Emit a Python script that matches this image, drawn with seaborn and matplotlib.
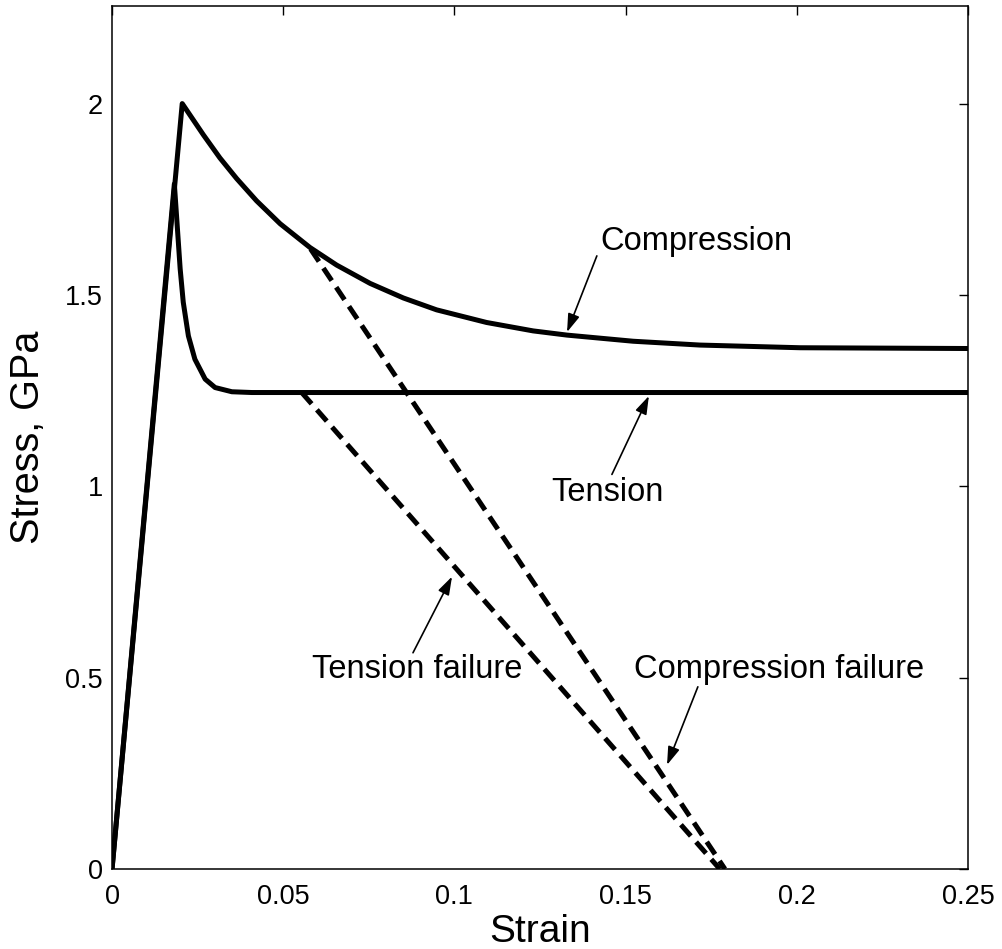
import numpy as np
import pandas as pd
import matplotlib
matplotlib.use("Agg")
import matplotlib.pyplot as plt
import seaborn as sns

# Compression stress-strain response (linear loading, peak, softening to plateau)
comp_strain = [0.0, 0.0205, 0.0267, 0.0315, 0.0364, 0.0422, 0.0491, 0.0578,
               0.0656, 0.0754, 0.0851, 0.0948, 0.1094, 0.1230, 0.1329, 0.1522,
               0.1717, 0.2010, 0.2500]
comp_stress = [0.0, 2.0, 1.918, 1.858, 1.804, 1.746, 1.686, 1.624,
               1.578, 1.530, 1.492, 1.461, 1.428, 1.406, 1.395, 1.379,
               1.369, 1.362, 1.360]

# Tension stress-strain response (sharp drop after peak to a flat plateau)
tens_strain = [0.0, 0.0182, 0.0189, 0.0199, 0.0208, 0.0223, 0.0242, 0.0272,
               0.0301, 0.0350, 0.0408, 0.2500]
tens_stress = [0.0, 1.790, 1.699, 1.568, 1.481, 1.393, 1.332, 1.280,
               1.258, 1.247, 1.245, 1.245]

# Failure (unloading) lines
comp_fail_strain = [0.058, 0.179]
comp_fail_stress = [1.62, 0.0]
tens_fail_strain = [0.0554, 0.1775]
tens_fail_stress = [1.245, 0.0]

xticks = [0, 0.05, 0.1, 0.15, 0.2, 0.25]
xticklabels = ["0", "0.05", "0.1", "0.15", "0.2", "0.25"]
yticks = [0, 0.5, 1, 1.5, 2]
yticklabels = ["0", "0.5", "1", "1.5", "2"]

sns.set_style("white")
plt.rcParams["font.family"] = ["Liberation Sans", "DejaVu Sans"]
plt.rcParams["text.color"] = "black"
plt.rcParams["axes.labelcolor"] = "black"
plt.rcParams["xtick.color"] = "black"
plt.rcParams["ytick.color"] = "black"

fig = plt.figure(figsize=(10.03, 9.49), dpi=100)
ax = fig.add_axes([0.1117, 0.0843, 0.8534, 0.9094])

solid = pd.concat([
    pd.DataFrame({"strain": comp_strain, "stress": comp_stress, "curve": "Compression"}),
    pd.DataFrame({"strain": tens_strain, "stress": tens_stress, "curve": "Tension"}),
])
dashed = pd.concat([
    pd.DataFrame({"strain": comp_fail_strain, "stress": comp_fail_stress, "curve": "Compression failure"}),
    pd.DataFrame({"strain": tens_fail_strain, "stress": tens_fail_stress, "curve": "Tension failure"}),
])

sns.lineplot(data=solid, x="strain", y="stress", units="curve", estimator=None,
             sort=False, color="black", lw=3.6, ax=ax, legend=False)
for ln in ax.lines:
    ln.set_solid_joinstyle("round")
sns.lineplot(data=dashed, x="strain", y="stress", units="curve", estimator=None,
             sort=False, color="black", lw=3.6, ax=ax, legend=False)
for ln in ax.lines[-2:]:
    ln.set_dashes((3.0, 1.6))
    ln.set_dash_capstyle("butt")

ax.set_xlim(0, 0.25)
ax.set_ylim(0, 2.255)
ax.set_xticks(xticks)
ax.set_xticklabels(xticklabels)
ax.set_yticks(yticks)
ax.set_yticklabels(yticklabels)
ax.tick_params(axis="both", direction="in", top=True, right=True,
               length=6.5, width=1.0, labelsize=19.5, color="black",
               labelcolor="black")
ax.tick_params(axis="x", pad=10.5)
ax.tick_params(axis="y", pad=6.5)
for sp in ax.spines.values():
    sp.set_color("black")
    sp.set_linewidth(1.1)

ax.set_xlabel("Strain", fontsize=28, labelpad=3, color="black")
ax.set_ylabel("Stress, GPa", fontsize=28.5, labelpad=13, color="black")

arrow = dict(arrowstyle="-|>,head_length=0.55,head_width=0.18", color="black",
             lw=1.2, shrinkA=0, shrinkB=0, mutation_scale=20)
notes = [
    ("Compression", (0.1706, 1.639), (0.1416, 1.602), (0.1329, 1.403)),
    ("Tension", (0.1446, 0.984), (0.1460, 1.031), (0.1568, 1.236)),
    ("Tension failure", (0.0891, 0.521), (0.0879, 0.565), (0.0993, 0.764)),
    ("Compression failure", (0.1948, 0.521), (0.1711, 0.476), (0.1621, 0.272)),
]
for label, pos, tail, tip in notes:
    ax.annotate("", xy=tip, xytext=tail, arrowprops=arrow)
    ax.text(pos[0], pos[1], label, fontsize=23.5, ha="center", va="center",
            color="black")

fig.savefig("out.png", dpi=100)
